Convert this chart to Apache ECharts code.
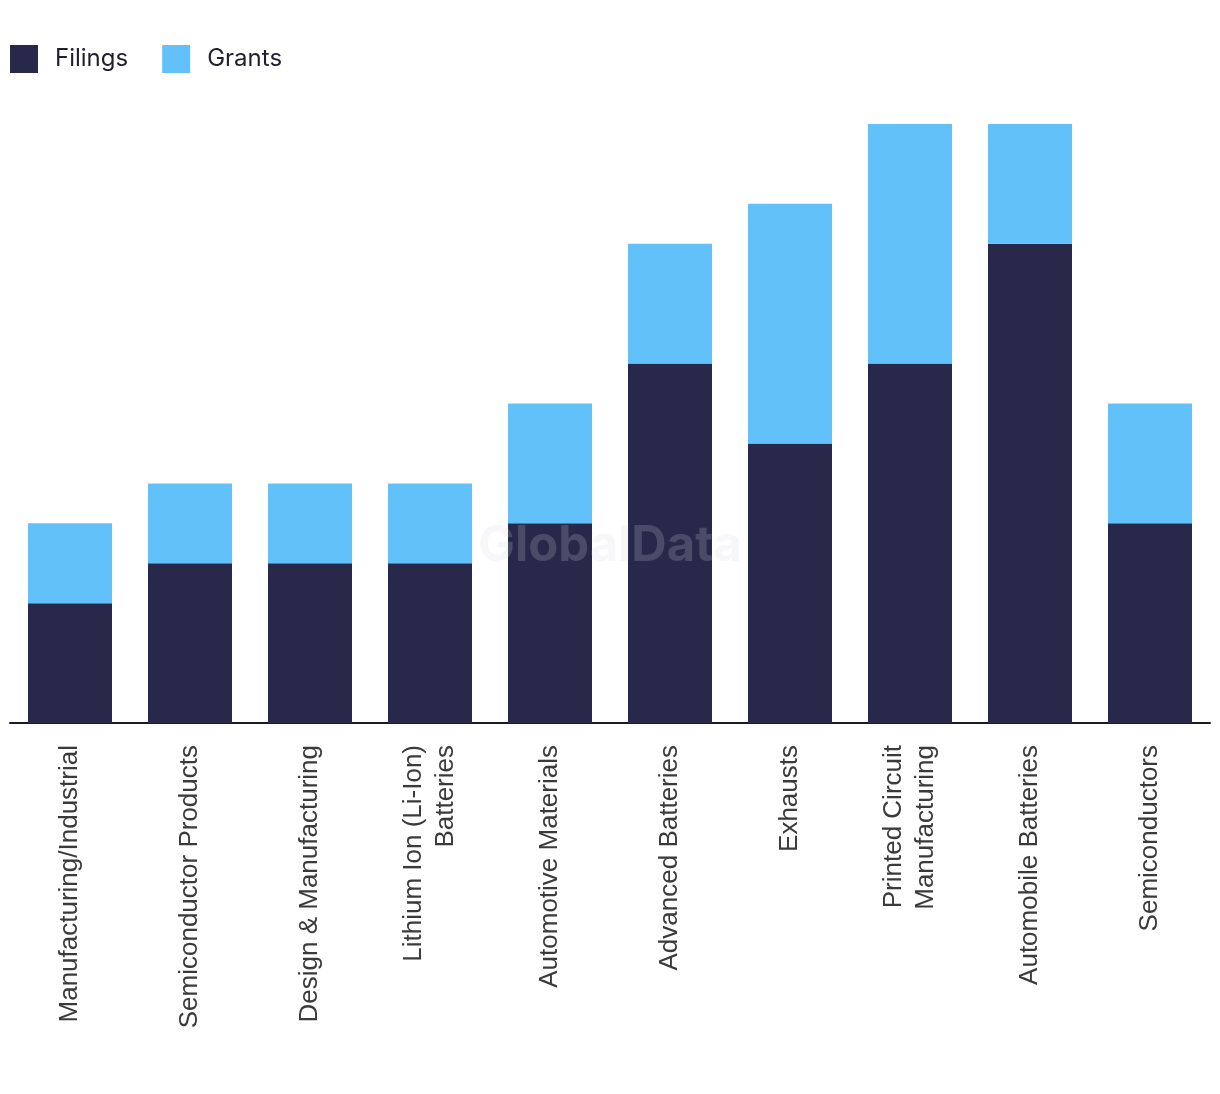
<!DOCTYPE html>
<html>
<head>
<meta charset="utf-8">
<script src="https://cdn.jsdelivr.net/npm/echarts@6/dist/echarts.min.js"></script>
<style>html,body{margin:0;padding:0;background:#fff}#c{width:1220px;height:1094px}</style>
</head>
<body>
<div id="c"></div>
<script>
const categories = ['Manufacturing/Industrial','Semiconductor Products','Design & Manufacturing','Lithium Ion (Li-Ion)\nBatteries','Automotive Materials','Advanced Batteries','Exhausts','Printed Circuit\nManufacturing','Automobile Batteries','Semiconductors'];
const filings = [3,4,4,4,5,9,7,9,12,5];
const grants  = [2,2,2,2,3,3,6,6,3,3];

const chart = echarts.init(document.getElementById('c'));
chart.setOption({
  animation: false,
  backgroundColor: '#fff',
  legend: {
    left: 5, top: 40, itemWidth: 28, itemHeight: 28, itemGap: 34,
    icon: 'rect',
    textStyle: { fontFamily: 'Inter', fontSize: 24, color: '#1e1e2e', padding: [0,0,0,12] },
    data: ['Filings','Grants']
  },
  grid: { left: 10, right: 10, top: 124, bottom: 371, containLabel: false },
  xAxis: {
    type: 'category', data: categories,
    axisLine: { lineStyle: { color: '#1a1a2e', width: 2 } },
    axisTick: { show: false },
    axisLabel: { rotate: 90, fontSize: 26, fontFamily: 'Liberation Sans', color: '#3a3a3a', margin: 22, lineHeight: 32, interval: 0 }
  },
  yAxis: { type: 'value', min: 0, max: 15, show: false, splitLine: { show: false } },
  series: [
    { name: 'Filings', type: 'bar', stack: 't', data: filings, barWidth: '70%', itemStyle: { color: '#28284b' } },
    { name: 'Grants', type: 'bar', stack: 't', data: grants, barWidth: '70%', itemStyle: { color: '#62c1f9' } }
  ],
  graphic: [{
    type: 'text', left: 'center', top: 522, z: 100,
    style: { text: 'GlobalData', font: 'bold 49px Inter', fill: 'rgba(215,215,225,0.2)' }
  }]
});
</script>
</body>
</html>
